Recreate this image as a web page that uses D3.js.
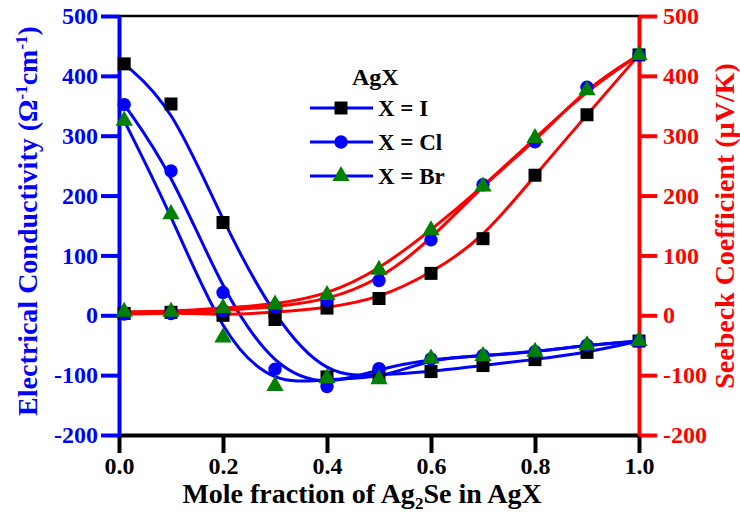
<!DOCTYPE html>
<html>
<head>
<meta charset="utf-8">
<script src="https://cdn.jsdelivr.net/npm/d3@7"></script>
<style>
  html, body { margin: 0; padding: 0; background: #fff; }
  svg { display: block; }
  text { font-family: "Liberation Serif", "Times New Roman", serif; font-weight: bold; }
</style>
</head>
<body>
<svg id="chart" width="740" height="515"></svg>
<script>
// Mole fraction of Ag2Se
const moleFraction = [0.01, 0.1, 0.2, 0.3, 0.4, 0.5, 0.6, 0.7, 0.8, 0.9, 1.0];

// Electrical conductivity (Ω^-1 cm^-1)
const condI  = [420, 353, 155, -7, -103, -100, -94, -84, -74, -62, -43];
const condCl = [352, 241, 38, -90, -119, -89, -73, -67, -61, -50, -43];
const condBr = [325, 169, -37, -118, -105, -107, -72, -68, -61, -50, -43];

// Seebeck coefficient (µV/K)
const seebI  = [3, 5, 0, 5, 12, 28, 70, 128, 234, 335, 435];
const seebCl = [2, 3, 8, 14, 25, 58, 126, 218, 290, 381, 435];
const seebBr = [6, 6, 12, 18, 34, 76, 142, 215, 296, 376, 435];

const legendLabels = ["X = I", "X = Cl", "X = Br"];
const xTicks = [0, 0.2, 0.4, 0.6, 0.8, 1.0];
const xMinor = [0.1, 0.3, 0.5, 0.7, 0.9];
const yTicks = [-200, -100, 0, 100, 200, 300, 400, 500];
const yMinor = [-150, -50, 50, 150, 250, 350, 450];

const BLUE = "#0000ff", RED = "#ff0000", GREEN = "#008000", BLACK = "#000000";

const svg = d3.select("#chart");
const plotL = 119, plotR = 639, plotT = 16, plotB = 435;

const x = d3.scaleLinear().domain([0, 1]).range([plotL, plotR]);
const yL = d3.scaleLinear().domain([-200, 500]).range([plotB, plotT]);
const yR = d3.scaleLinear().domain([-200, 500]).range([plotB, plotT]);

// plain hyphen for negative tick values
const intFmt = d => String(d);

// top frame line
svg.append("line")
  .attr("x1", plotL).attr("x2", plotR).attr("y1", plotT).attr("y2", plotT)
  .attr("stroke", BLACK).attr("stroke-width", 2.5);

function styleAxis(g, color, width) {
  g.attr("font-family", null);
  g.selectAll("path.domain").attr("stroke", color).attr("stroke-width", width);
  g.selectAll(".tick line").attr("stroke", color).attr("stroke-width", 4);
  g.selectAll(".tick text").attr("fill", color)
    .style("font-size", "24px").style("font-family", "'Liberation Serif', serif").style("font-weight", "bold");
}

// bottom axis
const gx = svg.append("g").attr("transform", `translate(0,${plotB})`);
gx.call(d3.axisBottom(x).tickValues(xMinor).tickSize(10).tickSizeOuter(0).tickFormat(""));
gx.call(d3.axisBottom(x).tickValues(xTicks).tickSize(18).tickSizeOuter(0).tickPadding(4).tickFormat(d3.format(".1f")));
styleAxis(gx, BLACK, 4);

// left axis
const gl = svg.append("g").attr("transform", `translate(${plotL},0)`);
gl.call(d3.axisLeft(yL).tickValues(yMinor).tickSize(10).tickSizeOuter(0).tickFormat(""));
gl.call(d3.axisLeft(yL).tickValues(yTicks).tickSize(18).tickSizeOuter(0).tickPadding(3).tickFormat(intFmt));
styleAxis(gl, BLUE, 4);

// right axis
const gr = svg.append("g").attr("transform", `translate(${plotR},0)`);
gr.call(d3.axisRight(yR).tickValues(yMinor).tickSize(10).tickSizeOuter(0).tickFormat(""));
gr.call(d3.axisRight(yR).tickValues(yTicks).tickSize(18).tickSizeOuter(0).tickPadding(6).tickFormat(intFmt));
styleAxis(gr, RED, 4);

// axis titles
const xt = svg.append("text").attr("x", 362).attr("y", 503)
  .attr("text-anchor", "middle").attr("fill", BLACK).style("font-size", "28px");
xt.append("tspan").text("Mole fraction of Ag");
xt.append("tspan").attr("dy", 6).style("font-size", "17px").text("2");
xt.append("tspan").attr("dy", -6).text("Se in AgX");

const ytl = svg.append("text").attr("transform", "translate(37,221) rotate(-90)")
  .attr("text-anchor", "middle").attr("fill", BLUE).style("font-size", "28px");
ytl.append("tspan").text("Electrical Conductivity (Ω");
ytl.append("tspan").attr("dy", -10).style("font-size", "17px").text("-1");
ytl.append("tspan").attr("dy", 10).text("cm");
ytl.append("tspan").attr("dy", -10).style("font-size", "17px").text("-1");
ytl.append("tspan").attr("dy", 10).text(")");

svg.append("text").attr("transform", "translate(734,226) rotate(-90)")
  .attr("text-anchor", "middle").attr("fill", RED).style("font-size", "28px")
  .text("Seebeck Coefficient (µV/K)");

// fitted curves
const lineL = d3.line().x((d, i) => x(moleFraction[i])).y(d => yL(d)).curve(d3.curveBasis);
const lineR = d3.line().x((d, i) => x(moleFraction[i])).y(d => yR(d)).curve(d3.curveBasis);

[condI, condCl, condBr].forEach(s => {
  svg.append("path").attr("d", lineL(s)).attr("fill", "none")
    .attr("stroke", BLUE).attr("stroke-width", 3);
});
[seebI, seebCl, seebBr].forEach(s => {
  svg.append("path").attr("d", lineR(s)).attr("fill", "none")
    .attr("stroke", RED).attr("stroke-width", 3);
});

// markers
const shapes = [
  { sym: d3.symbolSquare, size: 169, fill: BLACK },
  { sym: d3.symbolCircle, size: 140, fill: BLUE },
  { sym: d3.symbolTriangle, size: 130, fill: GREEN }
];
const seriesSets = [[condI, seebI], [condCl, seebCl], [condBr, seebBr]];

seriesSets.forEach((pair, k) => {
  const sh = shapes[k];
  const path = d3.symbol().type(sh.sym).size(sh.size)();
  pair.forEach((vals, j) => {
    const sc = j === 0 ? yL : yR;
    svg.append("g").selectAll("path").data(vals).join("path")
      .attr("d", path)
      .attr("transform", (d, i) => `translate(${x(moleFraction[i])},${sc(d)})`)
      .attr("fill", sh.fill);
  });
});

// legend
const lg = svg.append("g");
lg.append("text").attr("x", 352).attr("y", 85).attr("fill", BLACK)
  .style("font-size", "24px").text("AgX");
const rowY = [108, 142, 176];
legendLabels.forEach((lab, k) => {
  const yy = rowY[k];
  lg.append("line").attr("x1", 310).attr("x2", 373).attr("y1", yy).attr("y2", yy)
    .attr("stroke", BLUE).attr("stroke-width", 3);
  lg.append("path").attr("d", d3.symbol().type(shapes[k].sym).size(shapes[k].size)())
    .attr("transform", `translate(341,${yy})`).attr("fill", shapes[k].fill);
  lg.append("text").attr("x", 378).attr("y", yy + 8).attr("fill", BLACK)
    .style("font-size", "23px").text(lab);
});
</script>
</body>
</html>
